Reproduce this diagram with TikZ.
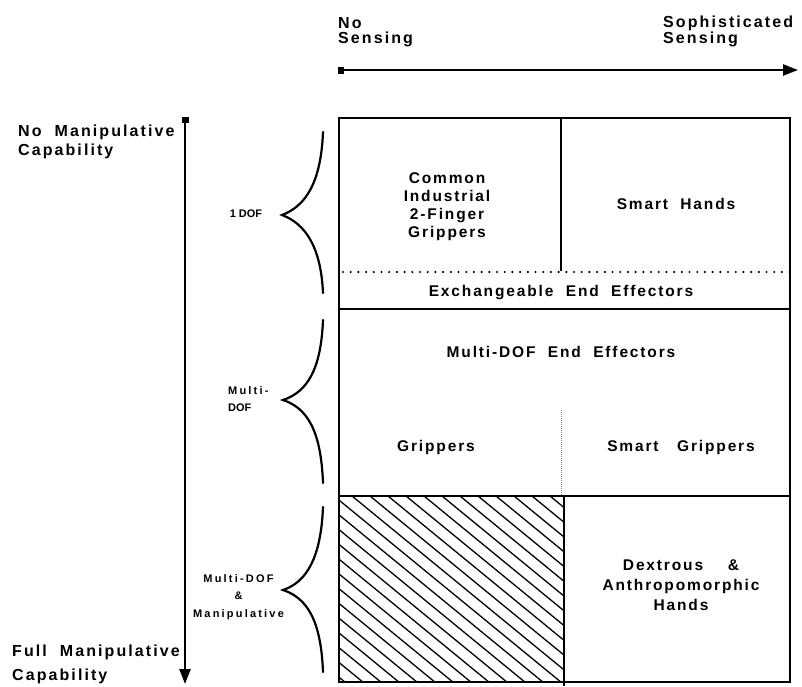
\documentclass[tikz,border=0pt]{standalone}
\usepackage{fontspec}
\setmainfont{Liberation Sans}
\newfontfamily\labfont[LetterSpace=12]{Liberation Sans Bold}
\newfontfamily\axfont[LetterSpace=13]{Liberation Sans Bold}
\newfontfamily\smlfont[LetterSpace=20]{Liberation Sans Bold}
\newfontfamily\plainfont{Liberation Sans Bold}
\usetikzlibrary{arrows.meta}
\begin{document}
\begin{tikzpicture}[x=1pt,y=-1pt,
  lab/.style={font=\labfont\fontsize{15.5}{18}\selectfont, inner sep=0pt, align=center},
  lab2/.style={font=\labfont\fontsize{15.5}{20}\selectfont, inner sep=0pt, align=center},
  sml/.style={font=\smlfont\fontsize{11}{17.5}\selectfont, inner sep=0pt, align=center},
  frame/.style={line width=2.8pt},
  divider/.style={line width=2.2pt},
  dotline/.style={line width=2.4pt, dash pattern=on 0pt off 7.7pt, line cap=round},
  fineline/.style={line width=0.7pt, gray, dash pattern=on 1pt off 1pt},
  hatch/.style={line width=1.3pt},
  brace/.style={line width=2.2pt, line cap=round},
  axis/.style={line width=2.4pt, {Square[length=6pt,width=7pt]}-{Triangle[length=15pt,width=11pt]}}]
\useasboundingbox (0,0) rectangle (802,686);

% top axis
\node[inner sep=0pt, font=\axfont\fontsize{16}{15.5}\selectfont, anchor=north west, align=left] (nosens) at (338,17) {No\\Sensing};
\node[inner sep=0pt, font=\axfont\fontsize{16}{16}\selectfont, anchor=north west, align=left] (sophsens) at (663,16) {Sophisticated\\Sensing};
\coordinate (hs) at (338,70);
\coordinate (he) at (798,70);
\draw[axis] (hs) -- (he);

% left axis
\coordinate (vs) at (185,117);
\coordinate (ve) at (185,684);
\draw[axis] (vs) -- (ve);
\node[inner sep=0pt, font=\axfont\fontsize{16}{19}\selectfont, anchor=north west, align=left] (nomanip) at (18,124.5) {No~ Manipulative\\Capability};
\node[inner sep=0pt, font=\axfont\fontsize{16}{24}\selectfont, anchor=north west, align=left] (fullmanip) at (12,644.5) {Full~ Manipulative\\Capability};

% braces
\draw[brace] (323,132) .. controls (321,182) and (306,206) .. (282,215)
             .. controls (306,224) and (321,248) .. (323,293);
\draw[brace] (323,320) .. controls (321,370) and (307,392) .. (283,400)
             .. controls (307,408) and (321,430) .. (323,483);
\draw[brace] (323,507) .. controls (321,557) and (307,582) .. (283,590)
             .. controls (307,598) and (321,620) .. (323,672);
\node[font=\plainfont\fontsize{11}{14}\selectfont, inner sep=0pt] (onedof) at (246,214) {1 DOF};
\node[sml, anchor=west, align=left] (multidof) at (228,399) {Multi-\\{\plainfont DOF}};
\node[sml] (mdm) at (238.5,597) {Multi-DOF\\\&\\Manipulative};

% hatch
\begin{scope}
  \clip (339,496) rectangle (564,682);
  \foreach \c in {100,118,...,580} \draw[hatch] (\c,496) -- ++(240,196.8);
\end{scope}

% frame and dividers
\draw[frame] (339,118) rectangle (790,682);
\draw[divider] (561,118) -- (561,271);
\draw[dotline] (343,272) -- (790,272);
\draw[divider] (339,309) -- (790,309);
\draw[fineline] (561,410) -- (561,496);
\draw[frame] (339,496) -- (790,496);
\draw[divider] (564,496) -- (564,686);

% box texts
\node[lab] (common) at (447,206.5) {Common\\Industrial\\2-Finger\\Grippers};
\node[lab] (smarthands) at (676,204) {Smart~ Hands};
\node[lab] (exch) at (561,293) {Exchangeable~ End~ Effectors};
\node[lab] (multiee) at (561,352) {Multi-DOF~ End~ Effectors};
\node[lab] (grippers) at (436,447) {Grippers};
\node[lab] (smartgr) at (681,447) {Smart~~ Grippers};
\node[lab2] (dextrous) at (681,585) {Dextrous~~~ \&\\Anthropomorphic\\Hands};
\end{tikzpicture}
\end{document}
